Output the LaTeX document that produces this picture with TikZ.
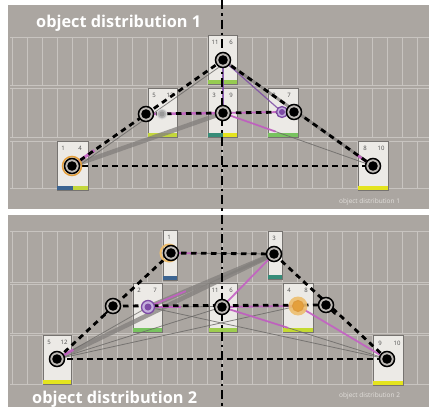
\documentclass[tikz,border=0pt]{standalone}
\usepackage{fontspec}
\setmainfont{Open Sans}
\usetikzlibrary{calc}
\definecolor{panelc}{RGB}{171,166,161}
\definecolor{gridc}{RGB}{200,196,192}
\definecolor{cardc}{RGB}{236,234,230}
\definecolor{cardb}{RGB}{118,115,112}
\definecolor{pinkc}{RGB}{196,96,196}
\definecolor{purc}{RGB}{125,75,165}
\definecolor{purl}{RGB}{195,175,220}
\definecolor{grayl}{RGB}{105,103,101}
\definecolor{grayt}{RGB}{130,127,124}
\definecolor{ringfill}{RGB}{190,186,182}
\definecolor{barblue}{RGB}{60,100,145}
\definecolor{baryg}{RGB}{195,215,60}
\definecolor{barteal}{RGB}{55,140,120}
\definecolor{bargreen}{RGB}{120,195,95}
\definecolor{baryel}{RGB}{228,228,30}
\definecolor{orangec}{RGB}{228,160,60}
\definecolor{orangel}{RGB}{238,190,110}
\definecolor{smalltxt}{RGB}{228,225,221}
\begin{document}
\begin{tikzpicture}[x=1pt,y=-1pt,
  panel/.style={fill=panelc},
  gridl/.style={draw=gridc,line width=0.7pt},
  card/.style={draw=cardb,fill=cardc,line width=0.8pt,anchor=north west,inner sep=0pt,outer sep=0pt},
  numtxt/.style={font=\fontsize{6}{6}\selectfont,text=black!70,inner sep=0pt,anchor=base},
  ring/.style={circle,draw=black,line width=1.5pt,fill=ringfill,minimum size=15pt,inner sep=0pt},
  dashblk/.style={black,line width=2.8pt,dash pattern=on 5.5pt off 4.5pt},
  dashdot/.style={black,line width=2.8pt,dash pattern=on 9pt off 4pt on 2.5pt off 4pt},
  gthin/.style={draw=grayl,line width=0.8pt,opacity=0.8},
  gthick/.style={draw=grayt,line width=4.5pt,opacity=0.75},
  pinkl/.style={draw=pinkc,line width=1.8pt,opacity=0.9},
  purline/.style={draw=purc,line width=1.2pt,opacity=0.85},
  bigtitle/.style={font=\fontsize{16.3}{16.3}\selectfont\bfseries,text=white,inner sep=0pt,anchor=base west},
  smalltitle/.style={font=\fontsize{6.5}{6.5}\selectfont,text=smalltxt,inner sep=0pt,anchor=base west}
]
\useasboundingbox (0,0) rectangle (432,407);
\fill[white] (0,0) rectangle (432,407);
% panels
\fill[panel] (8,5) rectangle (429,209);
\fill[panel] (8,215) rectangle (429,407);
% grid rows
\foreach \ya/\yb in {37/85,88/137,141/188,231/282,284/333,335/384}{
  \draw[gridl] (10,\ya) -- (429,\ya);
  \draw[gridl] (10,\yb) -- (429,\yb);
  \foreach \k in {0,...,27}{
    \draw[gridl] ({12+15*\k},\ya) -- ({12+15*\k},\yb);
  }
}
% ---------- top panel cards ----------
\node[card,minimum width=31pt,minimum height=49pt] (cA) at (57,141) {};
\fill[barblue] ($(cA.south west)+(0.4,-4)$) rectangle ($(cA.south)+(0,-0.4)$);
\fill[baryg] ($(cA.south)+(0,-4)$) rectangle ($(cA.south east)+(-0.4,-0.4)$);
\node[numtxt] (nA1) at (63,150) {1};
\node[numtxt] (nA2) at (80,150) {4};

\node[card,minimum width=29pt,minimum height=49pt] (cB) at (148,88) {};
\fill[baryg] ($(cB.south west)+(0.4,-4)$) rectangle ($(cB.south east)+(-0.4,-0.4)$);
\node[numtxt] (nB1) at (154,97) {5};
\node[numtxt] (nB2) at (170,97) {12};

\node[card,minimum width=29pt,minimum height=49pt] (cC) at (208,35) {};
\fill[bargreen!60!baryg] ($(cC.south west)+(0.4,-4)$) rectangle ($(cC.south east)+(-0.4,-0.4)$);
\node[numtxt] (nC1) at (215,44) {11};
\node[numtxt] (nC2) at (231,44) {6};

\node[card,minimum width=29pt,minimum height=49pt] (cD) at (208,88) {};
\fill[barteal] ($(cD.south west)+(0.4,-4)$) rectangle ($(cD.south)+(0,-0.4)$);
\fill[baryel] ($(cD.south)+(0,-4)$) rectangle ($(cD.south east)+(-0.4,-0.4)$);
\node[numtxt] (nD1) at (214,97) {3};
\node[numtxt] (nD2) at (231,97) {9};

\node[card,minimum width=30pt,minimum height=49pt] (cE) at (268,88) {};
\fill[bargreen] ($(cE.south west)+(0.4,-4)$) rectangle ($(cE.south east)+(-0.4,-0.4)$);
\node[numtxt] (nE1) at (274,97) {2};
\node[numtxt] (nE2) at (289,97) {7};

\node[card,minimum width=30pt,minimum height=49pt] (cF) at (358,141) {};
\fill[baryel] ($(cF.south west)+(0.4,-4)$) rectangle ($(cF.south east)+(-0.4,-0.4)$);
\node[numtxt] (nF1) at (365,150) {8};
\node[numtxt] (nF2) at (381,150) {10};

% ---------- bottom panel cards ----------
\node[card,minimum width=14pt,minimum height=50pt] (cG) at (163,230) {};
\fill[barblue] ($(cG.south west)+(0.4,-4)$) rectangle ($(cG.south east)+(-0.4,-0.4)$);
\node[numtxt] (nG1) at (169,239) {1};

\node[card,minimum width=14pt,minimum height=48pt] (cH) at (268,231) {};
\fill[barteal] ($(cH.south west)+(0.4,-4)$) rectangle ($(cH.south east)+(-0.4,-0.4)$);
\node[numtxt] (nH1) at (274,240) {3};

\node[card,minimum width=29pt,minimum height=49pt] (cI) at (133,283) {};
\fill[bargreen] ($(cI.south west)+(0.4,-4)$) rectangle ($(cI.south east)+(-0.4,-0.4)$);
\node[numtxt] (nI1) at (139,292) {2};
\node[numtxt] (nI2) at (155,292) {7};

\node[card,minimum width=28pt,minimum height=49pt] (cJ) at (209,283) {};
\fill[bargreen!50!baryg] ($(cJ.south west)+(0.4,-4)$) rectangle ($(cJ.south east)+(-0.4,-0.4)$);
\node[numtxt] (nJ1) at (215,292) {11};
\node[numtxt] (nJ2) at (231,292) {6};

\node[card,minimum width=30pt,minimum height=49pt] (cK) at (283,283) {};
\fill[baryel!70!bargreen] ($(cK.south west)+(0.4,-4)$) rectangle ($(cK.south east)+(-0.4,-0.4)$);
\node[numtxt] (nK1) at (289,292) {4};
\node[numtxt] (nK2) at (306,292) {8};

\node[card,minimum width=28pt,minimum height=49pt] (cL) at (43,335) {};
\fill[baryel] ($(cL.south west)+(0.4,-4)$) rectangle ($(cL.south east)+(-0.4,-0.4)$);
\node[numtxt] (nL1) at (49,344) {5};
\node[numtxt] (nL2) at (64,344) {12};

\node[card,minimum width=30pt,minimum height=50pt] (cM) at (373,335) {};
\fill[baryel] ($(cM.south west)+(0.4,-4)$) rectangle ($(cM.south east)+(-0.4,-0.4)$);
\node[numtxt] (nM1) at (380,345) {9};
\node[numtxt] (nM2) at (397,345) {10};

% ---------- node positions ----------
\coordinate (A) at (72,166);
\coordinate (B) at (146,114);
\coordinate (Bg) at (162,114);
\coordinate (C) at (223,60);
\coordinate (D) at (223,113);
\coordinate (Ep) at (282,112);
\coordinate (E) at (294,112);
\coordinate (F) at (373,166);

\coordinate (G) at (171,253);
\coordinate (H) at (274,254);
\coordinate (I) at (148,307);
\coordinate (J) at (222,307);
\coordinate (K) at (298,306);
\coordinate (L) at (57,359);
\coordinate (M) at (387,359);
\coordinate (P1) at (113,306);
\coordinate (P2) at (326,305);

% ---------- top connectors ----------
\draw[gthick] (A) -- (D);
\draw[gthin] ($(A)+(2,3)$) -- ($(C)+(2,3)$);
\draw[gthin] (D) -- (F);
\draw[gthick,line width=3pt] (C) -- (F);
\draw[pinkl,line width=3pt] (A) -- ($(A)!0.3!(B)$);
\draw[pinkl,line width=2.5pt] (B) -- (D);
\draw[pinkl] (D) -- ($(D)!0.35!(F)$);
\draw[purline] (C) -- (D);
\draw[purline] (C) -- (Ep);
\draw[pinkl] (D) -- (Ep);
\draw[pinkl,line width=2.5pt] ($(F)!0.22!(E)$) -- (F);
\draw[dashblk] (A) -- (C);
\draw[dashblk] (C) -- (F);
\draw[dashblk] (A) -- (F);
\draw[dashblk] (B) -- (E);

% ---------- bottom connectors ----------
\draw[gthick] (L) -- (H);
\draw[gthick] (I) -- (H);
\draw[gthin] (L) -- (I);
\draw[gthin] (L) -- (J);
\draw[gthin] (L) -- (K);
\draw[gthin] (I) -- (M);
\draw[gthin] (J) -- (M);
\draw[gthin] (G) -- (H);
\draw[gthin] (I) -- (K);
\draw[pinkl,line width=2.5pt] (L) -- ($(L)!0.18!(I)$);
\draw[pinkl] (I) -- ($(I)!0.3!(H)$);
\draw[pinkl] (I) -- ($(I)!0.45!(J)$);
\draw[pinkl] (J) -- (H);
\draw[pinkl] (J) -- ($(J)!0.4!(M)$);
\draw[pinkl] (J) -- (K);
\draw[pinkl] (K) -- (M);
\draw[pinkl] (G) -- ($(G)!0.25!(H)$);
\draw[dashblk] (L) -- (G);
\draw[dashblk] (G) -- (H);
\draw[dashblk] (H) -- (M);
\draw[dashblk] (P1) -- (P2);
\draw[dashblk] (L) -- (M);

% ---------- vertical axis ----------
\coordinate (vtop) at (222,0);
\coordinate (vbot) at (222,407);
\draw[dashdot] (vtop) -- (vbot);

% ---------- markers ----------
% top
\draw[orangec,line width=1.5pt] (A) circle (9.5pt);
\node[ring] (nA) at (A) {}; \fill (nA.center) circle (4.8pt);
\draw[white!70!gray,line width=1pt,fill=gray!60] (Bg) circle (5pt);
\fill[gray!80] (Bg) circle (2.5pt);
\node[ring] (nB) at (B) {}; \fill (nB.center) circle (4.8pt);
\node[ring] (nC) at (C) {}; \fill (nC.center) circle (4.8pt);
\node[ring] (nD) at (D) {}; \fill (nD.center) circle (4.8pt);
\node[circle,draw=purc,line width=1.3pt,fill=purl,minimum size=11pt,inner sep=0pt] (nEp) at (Ep) {};
\fill[purc] (nEp.center) circle (3pt);
\node[ring] (nE) at (E) {}; \fill (nE.center) circle (4.8pt);
\node[ring] (nF) at (F) {}; \fill (nF.center) circle (4.8pt);
% bottom
\draw[orangel,line width=2pt] ($(G)+(-2,0)$) circle (8.5pt);
\node[ring] (nG) at (G) {}; \fill (nG.center) circle (4.8pt);
\node[ring] (nH) at (H) {}; \fill (nH.center) circle (4.8pt);
\node[circle,draw=purc,line width=1.3pt,fill=purl,minimum size=13pt,inner sep=0pt] (nI) at (I) {};
\fill[purc] (nI.center) circle (3.5pt);
\node[ring] (nJ) at (J) {}; \fill (nJ.center) circle (4.8pt);
\node[circle,fill=orangel,opacity=0.9,minimum size=19pt,inner sep=0pt] (nK) at (K) {};
\draw[orangec!80!brown,line width=1pt,fill=orangec] (nK.center) circle (5.5pt);
\node[ring] (nL) at (L) {}; \fill (nL.center) circle (4.8pt);
\node[ring] (nM) at (M) {}; \fill (nM.center) circle (4.8pt);
\node[ring] (nP1) at (P1) {}; \fill (nP1.center) circle (4.8pt);
\draw[black,line width=2pt,line cap=round] (nP1.south west) -- ++(-3,3);
\node[ring] (nP2) at (P2) {}; \fill (nP2.center) circle (4.8pt);
\draw[black,line width=2pt,line cap=round] (nP2.south east) -- ++(3,3);

% ---------- titles ----------
\node[bigtitle] (t1) at (36,27) {object distribution 1};
\node[bigtitle] (t2) at (32,403) {object distribution 2};
\node[smalltitle] (s1) at (339,203) {object distribution 1};
\node[smalltitle] (s2) at (339,397) {object distribution 2};
\end{tikzpicture}
\end{document}
